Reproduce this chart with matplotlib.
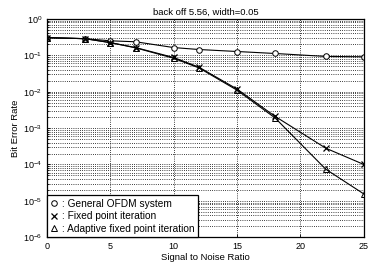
import matplotlib
matplotlib.use("Agg")
import matplotlib.pyplot as plt
from matplotlib.lines import Line2D

snr      = [0, 3, 5, 7, 10, 12, 15, 18, 22, 25]
ber_ofdm = [0.305, 0.286, 0.25, 0.235, 0.163, 0.144, 0.127, 0.112, 0.093, 0.091]
ber_fix  = [0.305, 0.286, 0.223, 0.163, 0.087, 0.047, 0.0118, 0.0021, 2.8e-4, 1.0e-4]
ber_adp  = [0.305, 0.286, 0.223, 0.160, 0.083, 0.045, 0.0110, 0.0019, 7.4e-5, 1.55e-5]

labels = [": General OFDM system", ": Fixed point iteration", ": Adaptive fixed point iteration"]

plt.rcParams["font.family"] = "Liberation Sans"

fig = plt.figure(figsize=(3.69, 2.66), dpi=100)
ax = fig.add_axes([0.127, 0.108, 0.859, 0.821])

ax.semilogy(snr, ber_ofdm, c="k", lw=0.8, marker="o", ms=4, mfc="white", mew=0.7)
ax.semilogy(snr, ber_fix,  c="k", lw=0.8, marker="x", ms=4, mew=0.9)
ax.semilogy(snr, ber_adp,  c="k", lw=0.8, marker="^", ms=4, mfc="none", mew=0.7)

ax.set_xlim(0, 25)
ax.set_ylim(1e-6, 1)
ax.set_xticks([0, 5, 10, 15, 20, 25])
ax.set_yticks([1e-6, 1e-5, 1e-4, 1e-3, 1e-2, 1e-1, 1])
ax.grid(which="both", color="k", linestyle=(0, (1, 1.6)), linewidth=0.6)
ax.tick_params(which="both", direction="in", labelsize=6.5, length=2.5, width=0.6)
ax.tick_params(which="minor", length=1.5)
for s in ax.spines.values():
    s.set_linewidth(0.9)

ax.set_xlabel("Signal to Noise Ratio", fontsize=6.8, labelpad=1)
ax.set_ylabel("Bit Error Rate", fontsize=6.8, labelpad=2)
ax.set_title("back off 5.56, width=0.05", fontsize=6.8, pad=3)

handles = [Line2D([], [], color="k", marker="o", ls="none", ms=4, mfc="none", mew=0.7),
           Line2D([], [], color="k", marker="x", ls="none", ms=4, mew=0.9),
           Line2D([], [], color="k", marker="^", ls="none", ms=4, mfc="none", mew=0.7)]
leg = ax.legend(handles, labels, loc="lower left", fontsize=7.3, borderaxespad=0,
                handlelength=0.8, handletextpad=0.3, labelspacing=0.25,
                fancybox=False, framealpha=1, edgecolor="k", borderpad=0.35)
leg.get_frame().set_linewidth(0.9)

fig.savefig("out.png", dpi=100)
